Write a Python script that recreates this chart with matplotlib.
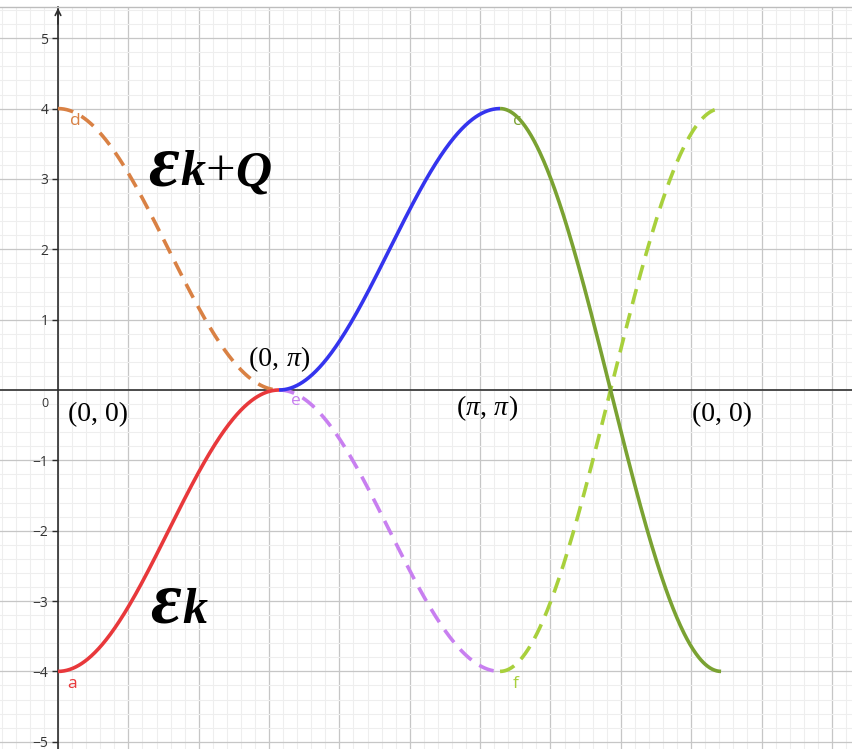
import numpy as np
import matplotlib
matplotlib.use("Agg")
import matplotlib.pyplot as plt
from matplotlib.ticker import MultipleLocator, FixedLocator

# High-symmetry path in the square-lattice Brillouin zone: Γ -> X -> M -> Γ
path_nodes = [(0.0, 0.0), (0.0, np.pi), (np.pi, np.pi), (0.0, 0.0)]
hopping = 1.0  # nearest-neighbour hopping t

# curve colours: solid = ε_k, dashed = ε_{k+Q}
solid_colors = ["#e8383b", "#3434ee", "#7aa232"]
dashed_colors = ["#d98144", "#c87ff0", "#a8d03c"]

y_ticks = [-5, -4, -3, -2, -1, 1, 2, 3, 4, 5]


def dispersion(kx, ky):
    return -2.0 * hopping * (np.cos(kx) + np.cos(ky))


fig = plt.figure(figsize=(8.53, 7.49), dpi=100)
ax = fig.add_axes([0, 0, 1, 742 / 749])
ax.set_xlim(-0.8245, 11.30)
ax.set_ylim(-5.103, 5.444)

# grid
ax.xaxis.set_major_locator(MultipleLocator(1))
ax.xaxis.set_minor_locator(MultipleLocator(0.2))
ax.yaxis.set_major_locator(FixedLocator(y_ticks))
ax.yaxis.set_minor_locator(MultipleLocator(0.2))
ax.grid(which="minor", color="#eeeeee", lw=0.8, zorder=0)
ax.grid(which="major", color="#c6c6c6", lw=0.9, zorder=0)
ax.set_axisbelow(True)

# axes through the origin
ax.spines["left"].set_position(("data", 0))
ax.spines["bottom"].set_position(("data", 0))
for s in ("left", "bottom"):
    ax.spines[s].set_color("#2e2e2e")
    ax.spines[s].set_linewidth(1.2)
ax.spines["right"].set_visible(False)
ax.spines["top"].set_color("#bdbdbd")
ax.spines["top"].set_linewidth(1.0)

ax.tick_params(axis="x", which="both", length=0, labelbottom=False)
ax.tick_params(axis="y", which="major", direction="out", length=4, width=1,
               color="#2e2e2e", pad=3, labelsize=10, labelcolor="#333333")
ax.tick_params(axis="y", which="minor", length=0)
ax.set_yticklabels([f"{v}".replace("-", "\u2212") for v in y_ticks],
                   fontfamily="Open Sans")
ax.text(-0.19, -0.19, "0", fontsize=9, color="#333333", ha="center",
        va="center", fontfamily="Open Sans")

# arrow at top of the vertical axis
ax.annotate("", xy=(0, 5.43), xytext=(0, 5.2),
            arrowprops=dict(arrowstyle="->", color="#2e2e2e", lw=1.2,
                            mutation_scale=10, shrinkA=0, shrinkB=0))

# curves
t = np.linspace(0, np.pi, 300)
offsets = [0, np.pi, 2 * np.pi]
for i in range(3):
    (kx0, ky0), (kx1, ky1) = path_nodes[i], path_nodes[i + 1]
    s = t / np.pi
    kx = kx0 + (kx1 - kx0) * s
    ky = ky0 + (ky1 - ky0) * s
    e = dispersion(kx, ky)
    x = offsets[i] + t
    ax.plot(x, -e, color=dashed_colors[i], lw=2.6, ls=(0, (4.3, 2.6)),
            zorder=3)
    ax.plot(x, e, color=solid_colors[i], lw=2.6, solid_capstyle="butt",
            zorder=4)

# point labels
lab_kw = dict(fontsize=12.5, ha="center", va="center", fontfamily="Open Sans")
ax.text(0.20, -4.18, "a", color=solid_colors[0], **lab_kw)
ax.text(0.24, 3.82, "d", color=dashed_colors[0], **lab_kw)
ax.text(3.38, -0.15, "e", color=dashed_colors[1], **lab_kw)
ax.text(6.52, 3.82, "c", color=solid_colors[2], **lab_kw)
ax.text(6.51, -4.18, "f", color=dashed_colors[2], **lab_kw)

# k-point labels
serif = ["Liberation Serif", "DejaVu Serif"]


def chain(x, y, parts, size):
    """Draw text pieces one after another on a common baseline."""
    prev = None
    for txt, style in parts:
        if prev is None:
            prev = ax.text(x, y, txt, fontsize=size, fontfamily=serif,
                           style=style, va="baseline", ha="left", zorder=6)
        else:
            prev = ax.annotate(txt, xy=(1, 0), xycoords=prev, fontsize=size,
                               fontfamily=serif, style=style,
                               va="bottom", ha="left", zorder=6)
    return prev


kp = dict(fontsize=20, fontfamily=serif, color="black", va="baseline")
ax.text(0.14, -0.44, "(0, 0)", ha="left", **kp)
ax.text(9.01, -0.44, "(0, 0)", ha="left", **kp)
chain(2.72, 0.34, [("(0, ", "normal"), ("\u03c0", "italic"), (")", "normal")], 20)
chain(5.67, -0.36, [("(", "normal"), ("\u03c0", "italic"), (", ", "normal"),
                    ("\u03c0", "italic"), (")", "normal")], 20)


# band labels: large bold-italic ε followed by k (and +Q)
def band_label(x, y, pieces):
    for px, txt, size, style, weight in pieces:
        ax.text(x + px, y, txt, fontsize=size, fontfamily=serif, style=style,
                weight=weight, va="baseline", ha="left", zorder=6)


band_label(1.28, 2.91, [(0.0, "\u03b5", 54, "italic", "bold"),
                        (0.46, "k", 36, "italic", "bold"),
                        (0.82, "+", 38, "normal", "normal"),
                        (1.24, "Q", 36, "italic", "bold")])
band_label(1.31, -3.31, [(0.0, "\u03b5", 54, "italic", "bold"),
                         (0.46, "k", 36, "italic", "bold")])

fig.savefig("out.png", dpi=100)
